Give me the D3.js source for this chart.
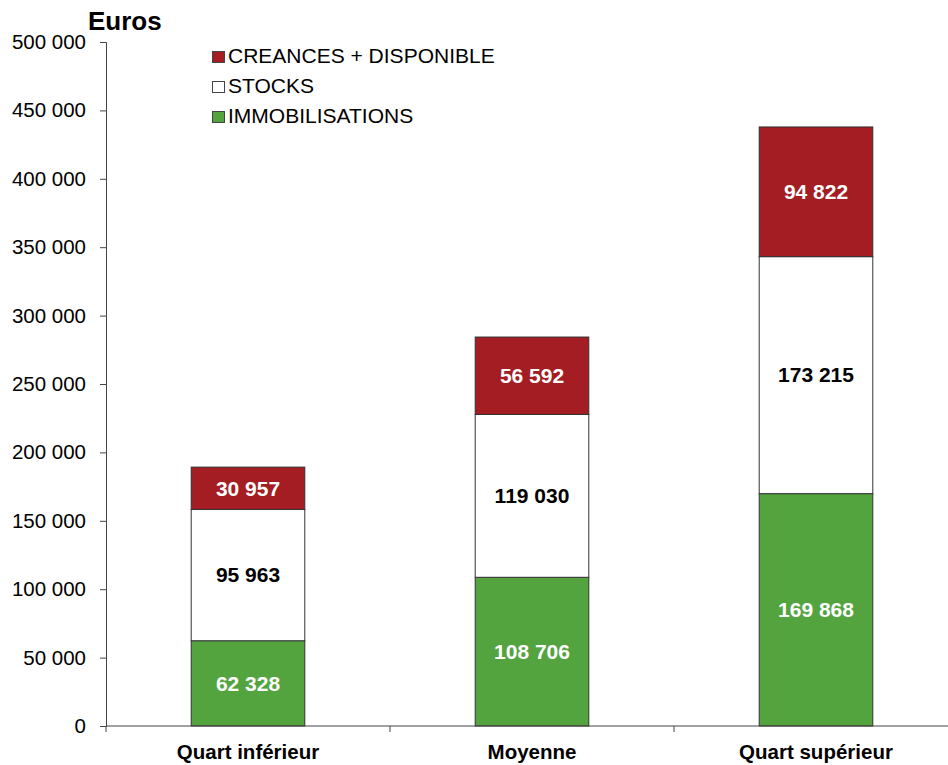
<!DOCTYPE html>
<html>
<head>
<meta charset="utf-8">
<script src="https://cdn.jsdelivr.net/npm/d3@7"></script>
<style>
  body { margin: 0; background: #fff; }
  svg { font-family: "Liberation Sans", Arial, sans-serif; }
</style>
</head>
<body>
<div id="chart"></div>
<script>
const width = 948;
const height = 765;

// data
const categories = ['Quart inférieur', 'Moyenne', 'Quart supérieur'];
const seriesNames = ['IMMOBILISATIONS', 'STOCKS', 'CREANCES + DISPONIBLE'];
const immobilisations = [62328, 108706, 169868];
const stocks = [95963, 119030, 173215];
const creances = [30957, 56592, 94822];
const yTicks = [0, 50000, 100000, 150000, 200000, 250000, 300000, 350000, 400000, 450000, 500000];

const colors = { 'IMMOBILISATIONS': '#53a43f', 'STOCKS': '#ffffff', 'CREANCES + DISPONIBLE': '#a31d23' };
const labelColors = { 'IMMOBILISATIONS': '#fff', 'STOCKS': '#000', 'CREANCES + DISPONIBLE': '#fff' };

const margin = { top: 42, right: -10, bottom: 39, left: 106 };

const rows = categories.map((c, i) => ({
  cat: c,
  'IMMOBILISATIONS': immobilisations[i],
  'STOCKS': stocks[i],
  'CREANCES + DISPONIBLE': creances[i]
}));

const svg = d3.select('#chart')
  .append('svg')
  .attr('width', width)
  .attr('height', height);

const x = d3.scaleBand()
  .domain(categories)
  .range([margin.left, width - margin.right])
  .paddingInner(0.6)
  .paddingOuter(0.3);

const y = d3.scaleLinear()
  .domain([0, 500000])
  .range([height - margin.bottom, margin.top]);

const fmt = v => d3.format(',')(v).replace(/,/g, ' ');

// stacked bars
const stacked = d3.stack().keys(seriesNames)(rows);

const layers = svg.selectAll('g.layer')
  .data(stacked)
  .join('g')
  .attr('class', 'layer')
  .attr('fill', d => colors[d.key]);

layers.selectAll('rect')
  .data(d => d)
  .join('rect')
  .attr('x', d => x(d.data.cat))
  .attr('y', d => y(d[1]))
  .attr('width', x.bandwidth())
  .attr('height', d => y(d[0]) - y(d[1]))
  .attr('stroke', '#333')
  .attr('stroke-width', 1);

// value labels
stacked.forEach(layer => {
  svg.selectAll(null)
    .data(layer)
    .join('text')
    .attr('x', d => x(d.data.cat) + x.bandwidth() / 2)
    .attr('y', d => (y(d[0]) + y(d[1])) / 2)
    .attr('dy', '0.35em')
    .attr('text-anchor', 'middle')
    .style('font-size', '21px')
    .style('font-weight', 'bold')
    .style('fill', labelColors[layer.key])
    .text(d => fmt(d[1] - d[0]));
});

// Y axis
const yAxis = svg.append('g')
  .attr('transform', `translate(${margin.left},0)`)
  .call(d3.axisLeft(y).tickValues(yTicks).tickFormat(fmt).tickSizeOuter(0).tickSize(6).tickPadding(14));
yAxis.selectAll('path, line').attr('stroke', '#444');
yAxis.selectAll('text')
  .style('font-size', '20.5px')
  .attr('fill', '#000');

// X axis (ticks at band boundaries)
const xAxisY = y(0);
svg.append('line')
  .attr('x1', margin.left)
  .attr('x2', width)
  .attr('y1', xAxisY)
  .attr('y2', xAxisY)
  .attr('stroke', '#444');

const step = x.step();
svg.selectAll('line.xtick')
  .data(categories.slice(1))
  .join('line')
  .attr('class', 'xtick')
  .attr('x1', d => x(d) - x.paddingInner() * step / 2)
  .attr('x2', d => x(d) - x.paddingInner() * step / 2)
  .attr('y1', xAxisY)
  .attr('y2', xAxisY + 6)
  .attr('stroke', '#444');
svg.append('line')
  .attr('x1', margin.left).attr('x2', margin.left)
  .attr('y1', xAxisY).attr('y2', xAxisY + 6)
  .attr('stroke', '#444');

svg.selectAll('text.cat')
  .data(categories)
  .join('text')
  .attr('class', 'cat')
  .attr('x', d => x(d) + x.bandwidth() / 2)
  .attr('y', 759)
  .attr('text-anchor', 'middle')
  .style('font-size', '20.5px')
  .style('font-weight', 'bold')
  .text(d => d);

// Y title
svg.append('text')
  .attr('x', 88)
  .attr('y', 30)
  .style('font-size', '26px')
  .style('font-weight', 'bold')
  .text('Euros');

// legend (reverse order)
const legendItems = seriesNames.slice().reverse();
const legend = svg.selectAll('g.legend')
  .data(legendItems)
  .join('g')
  .attr('class', 'legend')
  .attr('transform', (d, i) => `translate(212,${56 + i * 30})`);

legend.append('rect')
  .attr('x', 0.5)
  .attr('y', -4.5)
  .attr('width', 12)
  .attr('height', 11)
  .attr('fill', d => colors[d])
  .attr('stroke', '#444')
  .attr('stroke-width', 1);

legend.append('text')
  .attr('x', 16)
  .attr('dy', '0.35em')
  .style('font-size', '21px')
  .text(d => d);
</script>
</body>
</html>
